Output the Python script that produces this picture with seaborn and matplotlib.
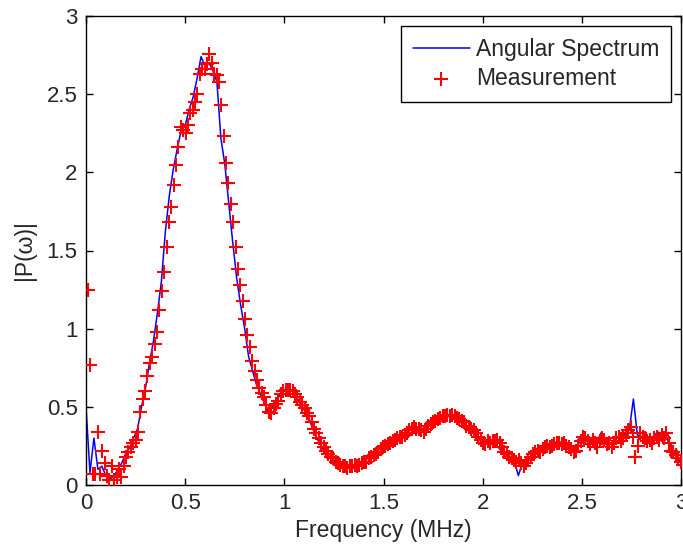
import numpy as np
import pandas as pd
import matplotlib
matplotlib.use("Agg")
import matplotlib.pyplot as plt
import seaborn as sns

# ---- data ----
freq_line = np.round(np.arange(0, 3.0001, 0.02), 3)
angular_spectrum = [
    0.50, 0.08, 0.30, 0.10, 0.12, 0.06, 0.04, 0.05, 0.10, 0.14,
    0.20, 0.24, 0.30, 0.36, 0.50, 0.62, 0.78, 0.92, 1.10, 1.30,
    1.62, 1.85, 2.02, 2.15, 2.27, 2.30, 2.40, 2.48, 2.60, 2.74,
    2.68, 2.70, 2.65, 2.58, 2.22, 2.05, 1.80, 1.55, 1.32, 1.15,
    1.00, 0.82, 0.73, 0.64, 0.58, 0.52, 0.47, 0.50, 0.54, 0.58,
    0.61, 0.61, 0.60, 0.56, 0.53, 0.48, 0.44, 0.37, 0.31, 0.26,
    0.22, 0.19, 0.17, 0.15, 0.13, 0.12, 0.12, 0.12, 0.13, 0.14,
    0.15, 0.17, 0.19, 0.21, 0.23, 0.24, 0.27, 0.28, 0.30, 0.31,
    0.32, 0.34, 0.36, 0.37, 0.32, 0.35, 0.37, 0.40, 0.41, 0.43,
    0.44, 0.44, 0.45, 0.43, 0.41, 0.39, 0.37, 0.35, 0.33, 0.30,
    0.27, 0.27, 0.28, 0.27, 0.24, 0.21, 0.19, 0.17, 0.15, 0.06,
    0.14, 0.15, 0.18, 0.20, 0.22, 0.23, 0.24, 0.25, 0.27, 0.28,
    0.27, 0.26, 0.24, 0.21, 0.25, 0.32, 0.31, 0.28, 0.25, 0.29,
    0.34, 0.29, 0.26, 0.27, 0.31, 0.30, 0.33, 0.36, 0.55, 0.32,
    0.31, 0.29, 0.27, 0.30, 0.34, 0.33, 0.34, 0.26, 0.22, 0.18,
    0.14,
]

freq_meas = np.round(np.arange(0.01, 3.0101, 0.012), 3)
measurement = [
    1.25, 0.77, 0.07, 0.07, 0.34, 0.07, 0.22, 0.14, 0.06, 0.03,
    0.12, 0.03, 0.05, 0.10, 0.05, 0.12, 0.18, 0.21, 0.24, 0.27,
    0.29, 0.34, 0.47, 0.55, 0.60, 0.70, 0.78, 0.82, 0.90, 0.98,
    1.12, 1.24, 1.36, 1.52, 1.68, 1.78, 1.92, 2.05, 2.16, 2.29,
    2.27, 2.25, 2.30, 2.38, 2.40, 2.45, 2.50, 2.63, 2.66, 2.66,
    2.69, 2.76, 2.70, 2.63, 2.62, 2.58, 2.43, 2.23, 2.06, 1.93,
    1.80, 1.68, 1.52, 1.38, 1.28, 1.18, 1.06, 0.96, 0.88, 0.79,
    0.73, 0.67, 0.62, 0.59, 0.56, 0.51, 0.47, 0.46, 0.49, 0.52,
    0.54, 0.58, 0.60, 0.61, 0.61, 0.61, 0.60, 0.58, 0.56, 0.53,
    0.51, 0.49, 0.46, 0.44, 0.40, 0.36, 0.33, 0.30, 0.27, 0.24,
    0.22, 0.20, 0.18, 0.17, 0.15, 0.14, 0.13, 0.12, 0.12, 0.11,
    0.12, 0.12, 0.13, 0.12, 0.13, 0.14, 0.15, 0.15, 0.17, 0.18,
    0.19, 0.20, 0.21, 0.23, 0.24, 0.25, 0.26, 0.27, 0.28, 0.29,
    0.30, 0.31, 0.31, 0.32, 0.33, 0.35, 0.36, 0.37, 0.36, 0.36,
    0.35, 0.34, 0.36, 0.38, 0.39, 0.40, 0.41, 0.42, 0.43, 0.44,
    0.44, 0.45, 0.44, 0.45, 0.44, 0.43, 0.42, 0.41, 0.40, 0.38,
    0.37, 0.36, 0.35, 0.33, 0.31, 0.29, 0.27, 0.26, 0.28, 0.27,
    0.28, 0.28, 0.29, 0.27, 0.24, 0.21, 0.20, 0.18, 0.17, 0.16,
    0.15, 0.16, 0.14, 0.12, 0.14, 0.16, 0.18, 0.20, 0.21, 0.22,
    0.21, 0.23, 0.24, 0.25, 0.24, 0.25, 0.26, 0.27, 0.27, 0.26,
    0.27, 0.25, 0.24, 0.23, 0.21, 0.22, 0.25, 0.28, 0.31, 0.30,
    0.28, 0.26, 0.29, 0.27, 0.24, 0.28, 0.30, 0.29, 0.26, 0.27,
    0.24, 0.27, 0.30, 0.31, 0.28, 0.30, 0.33, 0.35, 0.37, 0.31,
    0.18, 0.25, 0.33, 0.31, 0.30, 0.28, 0.29, 0.27, 0.30, 0.31,
    0.29, 0.32, 0.30, 0.33, 0.27, 0.22, 0.21, 0.19, 0.17, 0.15,
    0.13,
]

x_ticks = [0, 0.5, 1, 1.5, 2, 2.5, 3]
x_tick_labels = ["0", "0.5", "1", "1.5", "2", "2.5", "3"]
y_ticks = [0, 0.5, 1, 1.5, 2, 2.5, 3]
y_tick_labels = ["0", "0.5", "1", "1.5", "2", "2.5", "3"]

line_df = pd.DataFrame({"freq": freq_line, "val": angular_spectrum})
meas_df = pd.DataFrame({"freq": freq_meas, "val": measurement})

# ---- style ----
sns.set_style("ticks")
plt.rcParams["font.family"] = ["Liberation Sans", "DejaVu Sans"]
text_color = "#262626"

fig = plt.figure(figsize=(6.83, 5.52), dpi=100)
ax = fig.add_axes([86 / 683, 67 / 552, 595 / 683, 469 / 552])

sns.lineplot(data=line_df, x="freq", y="val", ax=ax, color="#0000ff",
             linewidth=1.1, label="Angular Spectrum", estimator=None, sort=False)
sns.scatterplot(data=meas_df, x="freq", y="val", ax=ax, marker="+",
                color="#ff0000", s=100, linewidth=1.5, label="Measurement",
                zorder=3)

ax.set_xlim(0, 3)
ax.set_ylim(0, 3)
ax.set_xticks(x_ticks)
ax.set_xticklabels(x_tick_labels)
ax.set_yticks(y_ticks)
ax.set_yticklabels(y_tick_labels)
ax.tick_params(direction="in", length=5, width=1.0, top=True, right=True,
               labelsize=16, colors="black", labelcolor=text_color, pad=6)
for sp in ax.spines.values():
    sp.set_visible(True)
    sp.set_linewidth(1.0)
    sp.set_color("black")

ax.set_xlabel("Frequency (MHz)", fontsize=16.5, color=text_color, labelpad=3)
ax.set_ylabel("|P(ω)|", fontsize=16.5, color=text_color, labelpad=8)

leg = ax.legend(loc="upper right", fontsize=16.5, frameon=True, fancybox=False,
                edgecolor="black", framealpha=1, handlelength=2.5,
                handletextpad=0.25, labelspacing=0.28, borderpad=0.5,
                borderaxespad=0.45)
leg.get_frame().set_linewidth(1.0)
for t in leg.get_texts():
    t.set_color(text_color)

fig.savefig("out.png", dpi=100)
